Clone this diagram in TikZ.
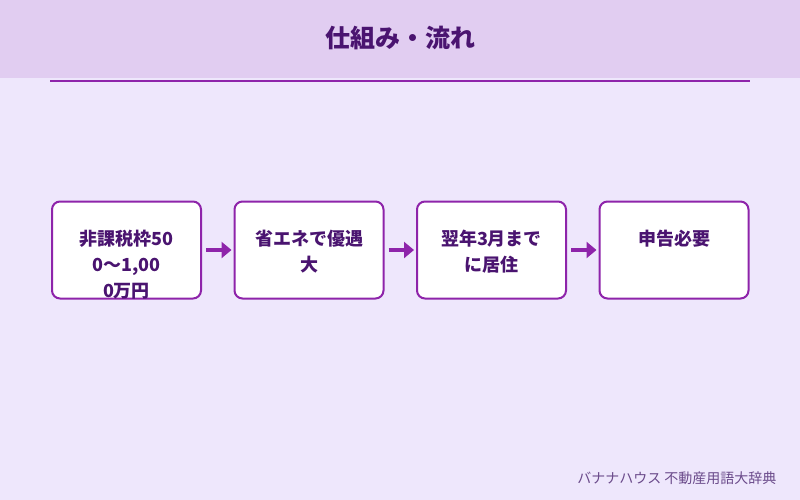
\documentclass[tikz,border=0pt]{standalone}
\usepackage{fontspec}
\setmainfont{Noto Sans CJK JP}
\usetikzlibrary{positioning,arrows.meta,calc}
\definecolor{bgpurple}{HTML}{EEE7FC}
\definecolor{headpurple}{HTML}{E1CDF1}
\definecolor{linepurple}{HTML}{8E24AA}
\definecolor{textpurple}{HTML}{4A1470}
\definecolor{footgray}{HTML}{6A4A8A}
\begin{document}
\begin{tikzpicture}[x=1pt,y=-1pt,node distance=31.5pt]
		\tikzstyle{step_box}=[draw=linepurple, line width=2pt, rounded corners=8pt, fill=white, minimum width=149pt, minimum height=97pt, inner sep=0pt];
		\tikzstyle{step_text}=[align=center, text width=140pt, font=\fontsize{18}{26}\selectfont\bfseries, text=textpurple, anchor=north];
		\tikzstyle{flow_arrow}=[draw=linepurple, line width=3.5pt, -{Triangle[length=10pt,width=16pt]}];

		\fill[bgpurple] (0,0) rectangle (800,500);
		\fill[headpurple] (0,0) rectangle (800,78);
		\node[font=\fontsize{25}{28}\selectfont\bfseries, text=textpurple] (title) at (400,38) {仕組み・流れ};
		\coordinate (rule_l) at (50,81);
		\coordinate (rule_r) at (750,81);
		\draw[linepurple, line width=1.5pt] (rule_l) -- (rule_r);

		\node[step_box] (s_1) at (126.5,250) {};
		\node[step_box, right = of s_1] (s_2) {};
		\node[step_box, right = of s_2] (s_3) {};
		\node[step_box, right = of s_3] (s_4) {};

		\node[step_text] (t_1) at ($(s_1.north)+(0,26)$) {非課税枠50\\0～1,00\\0万円};
		\node[step_text] (t_2) at ($(s_2.north)+(0,26)$) {省エネで優遇\\大};
		\node[step_text] (t_3) at ($(s_3.north)+(0,26)$) {翌年3月まで\\に居住};
		\node[step_text] (t_4) at ($(s_4.north)+(0,26)$) {申告必要};

		\draw[flow_arrow] ([xshift=4pt]s_1.east) -- ([xshift=-2pt]s_2.west);
		\draw[flow_arrow] ([xshift=4pt]s_2.east) -- ([xshift=-2pt]s_3.west);
		\draw[flow_arrow] ([xshift=4pt]s_3.east) -- ([xshift=-2pt]s_4.west);

		\node[anchor=east, font=\fontsize{14}{16}\selectfont, text=footgray] (foot) at (780,478) {バナナハウス 不動産用語大辞典};
\end{tikzpicture}
\end{document}
